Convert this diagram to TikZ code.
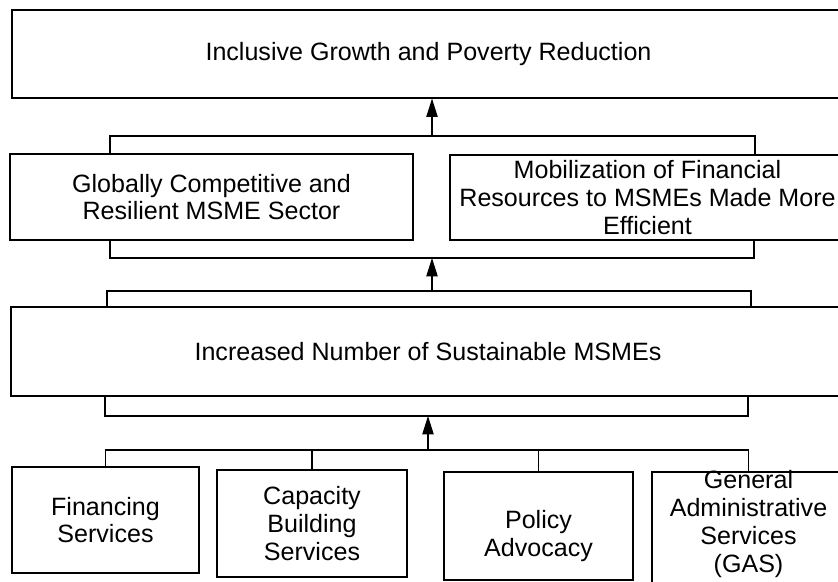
\documentclass[tikz,border=0pt]{standalone}
\usepackage{fontspec}
\setmainfont{Liberation Sans}
\usetikzlibrary{arrows.meta}

\begin{document}
\begin{tikzpicture}[x=0.03cm,y=-0.03cm,
  box/.style={draw,line width=1pt,inner sep=0pt,align=center,anchor=center},
  link/.style={line width=0.9pt},
  uparrow/.style={line width=0.9pt,-{Triangle[length=0.55cm,width=0.34cm]}},
  font=\fontsize{21.4}{23.8}\selectfont]
\useasboundingbox (0,0) rectangle (838,581);
\clip (0,0) rectangle (838,581);

\node[box,minimum width=833*0.03cm,minimum height=88*0.03cm] (goal) at (428.5,54) {Inclusive Growth and Poverty Reduction};

\node[box,minimum width=403*0.03cm,minimum height=86*0.03cm] (glob) at (211.5,197) {Globally Competitive and\\Resilient MSME Sector};
\node[box,minimum width=395*0.03cm,minimum height=85*0.03cm] (mobil) at (647.5,197.5) {Mobilization of Financial\\Resources to MSMEs Made More\\Efficient};

\node[box,minimum width=834*0.03cm,minimum height=89*0.03cm] (incr) at (428,351.5) {Increased Number of Sustainable MSMEs};

\node[box,minimum width=187*0.03cm,minimum height=106*0.03cm] (fin) at (105.5,520) {Financing\\Services};
\node[box,minimum width=190*0.03cm,minimum height=107*0.03cm] (cap) at (312,523.5) {Capacity\\Building\\Services};
\node[box,minimum width=189*0.03cm,minimum height=108*0.03cm,
  label={[yshift=-0.3cm,align=center]center:Policy\\Advocacy}] (pol) at (538.5,526) {};
\node[box,minimum width=193*0.03cm,minimum height=128*0.03cm,
  label={[yshift=0.36cm,align=center]center:General\\Administrative\\Services\\(GAS)}] (gen) at (748.5,536) {};

% brackets between the rows
\coordinate (b1l) at (110,136); \coordinate (b1r) at (755,136); \coordinate (j1) at (432,136);
\coordinate (b2l) at (110,258); \coordinate (b2r) at (754,258);
\coordinate (b3l) at (107,291); \coordinate (b3r) at (751,291); \coordinate (j2) at (432,291);
\coordinate (b4l) at (105,416); \coordinate (b4r) at (748,416);
\coordinate (b5) at (105,450); \coordinate (j3) at (428,450);

\draw[link] (b1l |- glob.north) -- (b1l) -- (b1r) -- (b1r |- mobil.north);
\draw[uparrow] (j1) -- (j1 |- goal.south);

\draw[link] (b2l |- glob.south) -- (b2l) -- (b2r) -- (b2r |- mobil.south);
\draw[link] (b3l |- incr.north) -- (b3l) -- (b3r) -- (b3r |- incr.north);
\draw[uparrow] (j2) -- (j2 |- b2l);

\draw[link] (b4l |- incr.south) -- (b4l) -- (b4r) -- (b4r |- incr.south);
\draw[link] (fin.north) -- (fin.north |- b5) -| (gen.north);
\draw[link] (cap.north) -- (cap.north |- b5);
\draw[link] (pol.north) -- (pol.north |- b5);
\draw[uparrow] (j3) -- (j3 |- b4l);
\end{tikzpicture}
\end{document}
